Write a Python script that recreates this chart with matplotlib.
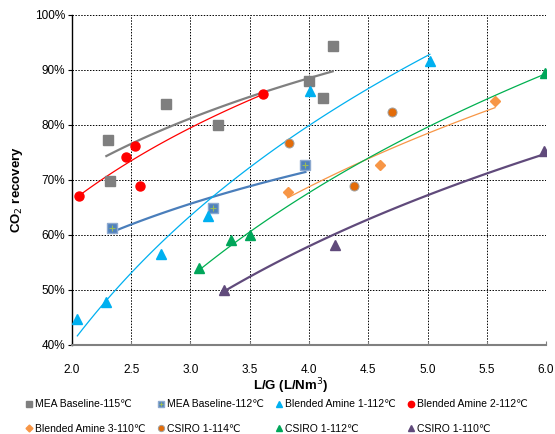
import numpy as np
import matplotlib
matplotlib.use('Agg')
import matplotlib.pyplot as plt
from matplotlib.legend_handler import HandlerTuple

plt.rcParams['font.family'] = ['Liberation Sans', 'DejaVu Sans']

# scatter data (L/G, CO2 recovery %)
mea115_x = [2.30, 2.32, 2.79, 3.23, 4.00, 4.12, 4.20]
mea115_y = [77.3, 69.7, 83.7, 80.0, 88.0, 84.9, 94.4]
mea112_x = [2.34, 3.19, 3.97]
mea112_y = [61.3, 64.9, 72.6]
ba1_x = [2.04, 2.29, 2.75, 3.15, 4.01, 5.02]
ba1_y = [44.7, 47.7, 56.4, 63.4, 86.1, 91.5]
ba2_x = [2.06, 2.46, 2.53, 2.57, 3.61]
ba2_y = [67.0, 74.2, 76.2, 68.9, 85.6]
ba3_x = [3.82, 4.60, 5.57]
ba3_y = [67.8, 72.6, 84.3]
cs114_x = [3.83, 4.38, 4.70]
cs114_y = [76.7, 68.9, 82.4]
cs112_x = [3.07, 3.34, 3.50, 5.99]
cs112_y = [53.9, 59.0, 59.9, 89.4]
cs110_x = [3.28, 4.22, 5.98]
cs110_y = [50.0, 58.2, 75.3]

# log trendlines: (x_start, x_end, y_start, y_end)
trend_mea115 = (2.29, 4.20, 74.3, 89.7)
trend_mea112 = (2.34, 3.97, 60.5, 71.4)
trend_ba1 = (2.045, 5.02, 41.6, 92.8)
trend_ba2 = (2.06, 3.61, 67.1, 85.5)
trend_ba3 = (3.82, 5.57, 66.7, 83.1)
trend_cs112 = (3.07, 5.99, 53.5, 89.2)
trend_cs110 = (3.26, 5.98, 49.4, 74.6)

x_ticks = [2.0, 2.5, 3.0, 3.5, 4.0, 4.5, 5.0, 5.5, 6.0]
y_ticks = [40, 50, 60, 70, 80, 90, 100]

def log_trend(ax, t, color, lw):
    x0, x1, y0, y1 = t
    a = (y1 - y0) / (np.log(x1) - np.log(x0))
    xs = np.linspace(x0, x1, 60)
    ax.plot(xs, y0 + a * (np.log(xs) - np.log(x0)), color=color, lw=lw, zorder=2)

fig = plt.figure(figsize=(5.55, 4.34), dpi=100)
ax = fig.add_axes([0.1297, 0.2058, 0.8541, 0.7603])

log_trend(ax, trend_mea115, '#808080', 1.6)
log_trend(ax, trend_mea112, '#4A7EBB', 1.6)
log_trend(ax, trend_ba1, '#00B0F0', 0.9)
log_trend(ax, trend_ba2, '#FF0000', 0.9)
log_trend(ax, trend_ba3, '#F79646', 0.9)
log_trend(ax, trend_cs112, '#00B050', 0.9)
log_trend(ax, trend_cs110, '#604A7B', 1.6)

h1, = ax.plot(mea115_x, mea115_y, 's', color='#7F7F7F', ms=6.5, mec='#7F7F7F', zorder=3)
h2a, = ax.plot(mea112_x, mea112_y, 's', color='#4F81BD', ms=6.5, mec='#8DA9CF', zorder=3)
h2b, = ax.plot(mea112_x, mea112_y, '+', color='#9BBB59', ms=5, mew=0.8, zorder=4)
h3, = ax.plot(ba1_x, ba1_y, '^', color='#00B0F0', ms=7, mec='#00B0F0', zorder=3)
h4, = ax.plot(ba2_x, ba2_y, 'o', color='#FF0000', ms=6.5, mec='#FF0000', zorder=3)
h5, = ax.plot(ba3_x, ba3_y, 'D', color='#F79646', ms=5, mec='#F79646', zorder=3)
h6, = ax.plot(cs114_x, cs114_y, 'o', color='#E36C09', ms=6.5, mec='#A0A0A0', mew=0.7, zorder=3)
h7, = ax.plot(cs112_x, cs112_y, '^', color='#00A65A', ms=7, mec='#00A65A', zorder=3)
h8, = ax.plot(cs110_x, cs110_y, '^', color='#604A7B', ms=7, mec='#604A7B', zorder=3)

ax.set_xlim(2.0, 6.0)
ax.set_ylim(40, 100)
ax.set_xticks(x_ticks)
ax.set_yticks(y_ticks)
ax.set_xticklabels([f'{v:.1f}' for v in x_ticks], fontsize=8.5)
ax.set_yticklabels([f'{v}%' for v in y_ticks], fontsize=8.5)
ax.grid(True, color='black', ls=(0, (1.5, 1.5)), lw=0.7)
ax.set_axisbelow(True)
for s in ['top', 'right']:
    ax.spines[s].set_visible(False)
ax.spines['left'].set_color('black')
ax.spines['left'].set_linewidth(1.0)
ax.spines['bottom'].set_color('#808080')
ax.spines['bottom'].set_linewidth(1.5)
ax.tick_params(axis='y', direction='out', length=3, pad=2)
ax.tick_params(axis='x', direction='in', length=3, pad=14, colors='#808080', labelcolor='black')

ax.set_xlabel('L/G (L/Nm$^3$)', fontsize=9.5, fontweight='bold')
ax.xaxis.set_label_coords((291 - 72) / 474, -(387 - 345) / 330, transform=ax.transAxes)
ax.set_ylabel('CO$_2$ recovery', fontsize=9.5, fontweight='bold')
ax.yaxis.set_label_coords(-(72 - 17) / 474, (345 - 190) / 330, transform=ax.transAxes)
ax.xaxis.label.set_va('center')
ax.yaxis.label.set_va('center')

handles = [h1, (h2a, h2b), h3, h4, h5, h6, h7, h8]
labels = ['MEA Baseline-115\u2103', 'MEA Baseline-112\u2103', 'Blended Amine 1-112\u2103',
          'Blended Amine 2-112\u2103', 'Blended Amine 3-110\u2103', 'CSIRO 1-114\u2103',
          'CSIRO 1-112\u2103', 'CSIRO 1-110\u2103']
order = [0, 4, 1, 5, 2, 6, 3, 7]
fig.legend([handles[i] for i in order], [labels[i] for i in order], ncol=4,
           loc='lower left', bbox_to_anchor=(0.035, -0.012, 0.925, 0.1), mode='expand',
           frameon=False, fontsize=7.5, handlelength=0.8, handletextpad=0.2,
           markerscale=0.7, labelspacing=1.4, borderaxespad=0.1,
           handler_map={tuple: HandlerTuple(ndivide=1, pad=0)})

fig.savefig('out.png', dpi=100)
